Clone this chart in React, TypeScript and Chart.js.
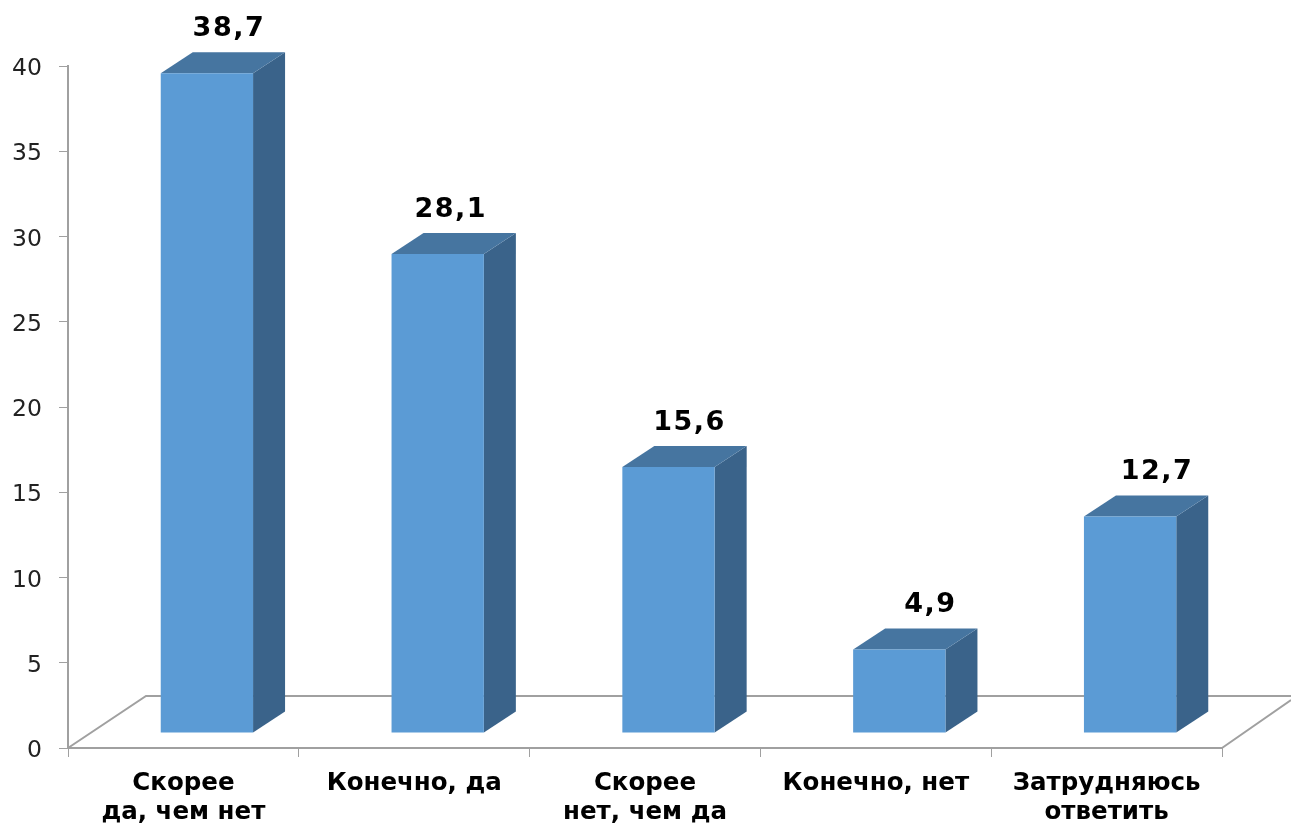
import React, { useEffect, useRef } from "react";
import { Chart, registerables } from "chart.js";

Chart.register(...registerables);

const categories = [
  ["Скорее", "да, чем нет"],
  "Конечно, да",
  ["Скорее", "нет, чем да"],
  "Конечно, нет",
  ["Затрудняюсь", "ответить"],
];
const values = [38.7, 28.1, 15.6, 4.9, 12.7];
const valueLabels = ["38,7", "28,1", "15,6", "4,9", "12,7"];
const yTicks = [0, 5, 10, 15, 20, 25, 30, 35, 40];

const FRONT = "#5b9bd5";
const TOP = "#4675a0";
const SIDE = "#3a638a";
const AXIS = "#a0a0a0";
const FONT = "'DejaVu Sans'";

// projection of the 3D look, in pixels
const FLOOR_SHIFT_X = 23.5;
const FLOOR_SHIFT_Y = -15;
const DEPTH_X = 32;
const DEPTH_Y = -21;
const LABEL_NUDGE = [-2, -11, -3, 7, 3];

const bar3d = {
  id: "bar3d",
  beforeDatasetsDraw(chart: any) {
    const { ctx } = chart;
    const x = chart.scales.x;
    const y = chart.scales.y;
    const y0 = y.getPixelForValue(0);
    ctx.save();
    ctx.strokeStyle = AXIS;
    ctx.lineWidth = 2;
    ctx.beginPath();
    ctx.moveTo(x.left, y0);
    ctx.lineTo(x.left + 78, y0 - 52);
    ctx.lineTo(chart.width, y0 - 52);
    ctx.moveTo(x.right, y0);
    ctx.lineTo(x.right + 69, y0 - 48);
    ctx.stroke();
    ctx.restore();
  },
  beforeDatasetDraw(chart: any, args: any) {
    const { ctx } = chart;
    const meta = chart.getDatasetMeta(args.index);
    ctx.save();
    ctx.translate(FLOOR_SHIFT_X, FLOOR_SHIFT_Y);
    meta.data.forEach((bar: any) => {
      const l = bar.x - bar.width / 2;
      const r = bar.x + bar.width / 2;
      const t = bar.y;
      const b = bar.base;
      ctx.fillStyle = SIDE;
      ctx.beginPath();
      ctx.moveTo(r, t);
      ctx.lineTo(r + DEPTH_X, t + DEPTH_Y);
      ctx.lineTo(r + DEPTH_X, b + DEPTH_Y);
      ctx.lineTo(r, b);
      ctx.closePath();
      ctx.fill();
      ctx.fillStyle = TOP;
      ctx.beginPath();
      ctx.moveTo(l, t);
      ctx.lineTo(l + DEPTH_X, t + DEPTH_Y);
      ctx.lineTo(r + DEPTH_X, t + DEPTH_Y);
      ctx.lineTo(r, t);
      ctx.closePath();
      ctx.fill();
    });
  },
  afterDatasetDraw(chart: any) {
    chart.ctx.restore();
  },
  afterDatasetsDraw(chart: any) {
    const { ctx } = chart;
    const meta = chart.getDatasetMeta(0);
    ctx.save();
    ctx.font = `bold 27px ${FONT}`;
    ctx.letterSpacing = "1.5px";
    ctx.fillStyle = "#000";
    ctx.textAlign = "center";
    ctx.textBaseline = "middle";
    meta.data.forEach((bar: any, i: number) => {
      ctx.fillText(
        valueLabels[i],
        bar.x + FLOOR_SHIFT_X + DEPTH_X / 2 + 8 + LABEL_NUDGE[i],
        bar.y + FLOOR_SHIFT_Y + DEPTH_Y - 23
      );
    });
    ctx.restore();
  },
};

export default function App() {
  const ref = useRef<HTMLCanvasElement>(null);
  useEffect(() => {
    const chart = new Chart(ref.current!, {
      type: "bar",
      data: {
        labels: categories as any,
        datasets: [
          {
            data: values,
            backgroundColor: FRONT,
            categoryPercentage: 1,
            barPercentage: 0.4,
          },
        ],
      },
      options: {
        animation: false,
        responsive: false,
        layout: { padding: { top: 66, right: 69, left: 0, bottom: 0 } },
        plugins: { legend: { display: false }, tooltip: { enabled: false } },
        scales: {
          x: {
            grid: {
              display: true,
              drawOnChartArea: false,
              drawTicks: true,
              tickLength: 9,
              color: AXIS,
              lineWidth: 1,
              offset: true,
            },
            border: { color: AXIS, width: 2 },
            ticks: {
              color: "#000",
              font: { family: FONT, size: 24.5, weight: "bold", lineHeight: 1.15 },
              maxRotation: 0,
              minRotation: 0,
              autoSkip: false,
              padding: 13,
            },
            afterFit(scale: any) {
              scale.height = 75;
            },
          },
          y: {
            min: 0,
            max: 40,
            afterBuildTicks(scale: any) {
              scale.ticks = yTicks.map((value) => ({ value }));
            },
            grid: {
              drawOnChartArea: false,
              drawTicks: true,
              tickLength: 9,
              color: AXIS,
              lineWidth: 1,
            },
            border: { color: AXIS, width: 2 },
            ticks: {
              color: "#222",
              font: { family: FONT, size: 23.5 },
              padding: 17,
              labelOffset: 3,
            },
            afterFit(scale: any) {
              scale.width = 68;
            },
          },
        },
      },
      plugins: [bar3d],
    } as any);
    return () => chart.destroy();
  }, []);
  return (
    <div style={{ position: "fixed", left: 0, top: 0, width: 1291, height: 823, background: "#fff" }}>
      <canvas ref={ref} width={1291} height={823} style={{ display: "block" }} />
    </div>
  );
}
